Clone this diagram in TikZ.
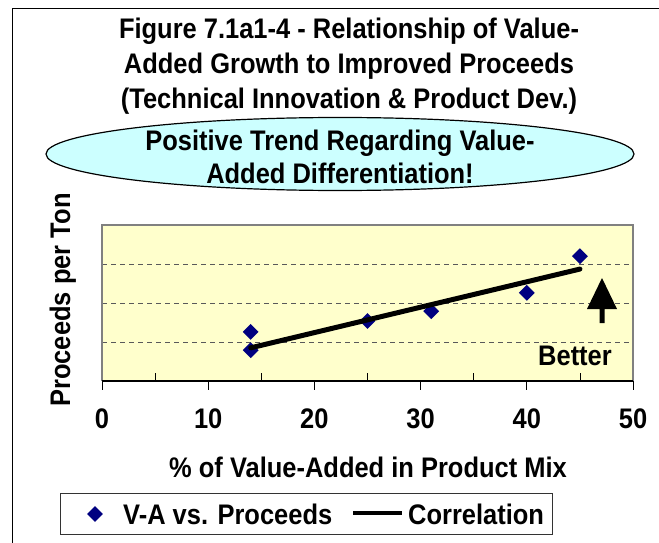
\documentclass[tikz,border=0pt]{standalone}
\usepackage{fontspec}
\setmainfont{Liberation Sans}[FakeStretch=0.9]
\usetikzlibrary{shapes.geometric}
\definecolor{plotbg}{HTML}{FFFFCC}
\definecolor{bubblefill}{HTML}{CCFFFF}
\definecolor{markercol}{HTML}{000080}
\tikzset{
  lbl/.style={font=\bfseries\fontsize{28.3}{32}\selectfont, inner sep=0pt, anchor=base},
  datapt/.style={diamond, aspect=1, fill=markercol, inner sep=0pt, minimum size=16pt},
  gridln/.style={gray!70!black, line width=0.8pt, dash pattern=on 5pt off 4pt}
}
\begin{document}
\begin{tikzpicture}[x=1pt,y=-1pt]
  \useasboundingbox (0,0) rectangle (659,543);
  \draw[line width=1.5pt] (12.5,543) -- (12.5,8.5) -- (659,8.5);
  \node[lbl] (title1) at (349,39) {Figure 7.1a1-4 - Relationship of Value-};
  \node[lbl] (title2) at (349,74) {Added Growth to Improved Proceeds};
  \node[lbl] (title3) at (349,108) {(Technical Innovation \& Product Dev.)};
  \node[ellipse, draw, line width=1.2pt, fill=bubblefill, minimum width=588pt, minimum height=73pt] (bubble) at (340,154) {};
  \node[lbl] (trend1) at (340,150) {Positive Trend Regarding Value-};
  \node[lbl] (trend2) at (340,183) {Added Differentiation!};
  \begin{scope}[shift={(102,381)},x=10.62pt,y=39pt]
    \fill[plotbg] (0,0) rectangle (50,4);
    \foreach \g in {1,2,3}
      \draw[gridln] (0,\g) -- (50,\g);
    \draw[gray, line width=2pt] (0,0) -- (0,4) -- (50,4) -- (50,0);
    \draw[line width=1.5pt] (0,0) -- (50,0);
    \foreach \t in {0,10,...,50} {
      \draw[line width=0.8pt] (\t,0) -- (\t,-0.23);
      \node[lbl] (tick\t) at (\t,-1.21) {\t};
    }
    \foreach \t in {5,15,...,45}
      \draw[line width=0.8pt] (\t,0) -- (\t,0.2);
    \foreach \px/\py [count=\i] in {14/1.26,14/0.79,25/1.54,31/1.79,40/2.26,45/3.2}
      \node[datapt] (pt\i) at (\px,\py) {};
    \coordinate (fitA) at (14,0.85);
    \coordinate (fitB) at (45,2.87);
    \draw[line width=5pt, line cap=round] (fitA) -- (fitB);
  \end{scope}
  \fill (602,278) -- (617,309) -- (604.5,309) -- (604.5,323) -- (599.5,323) -- (599.5,309) -- (587,309) -- cycle;
  \node[lbl] (better) at (575,365) {Better};
  \node[lbl, rotate=90] (ylabel) at (70,300) {Proceeds per Ton};
  \node[lbl] (xlabel) at (368,477) {\% of Value-Added in Product Mix};
  \draw[line width=1pt, gray!40!black] (60,493) rectangle (552,534);
  \node[datapt] (legpt) at (95,514) {};
  \node[lbl, anchor=base west] (legA) at (123,524) {V-A vs. Proceeds};
  \draw[line width=4pt] (353,513) -- (402,513);
  \node[lbl, anchor=base west] (legB) at (408,524) {Correlation};
\end{tikzpicture}
\end{document}
